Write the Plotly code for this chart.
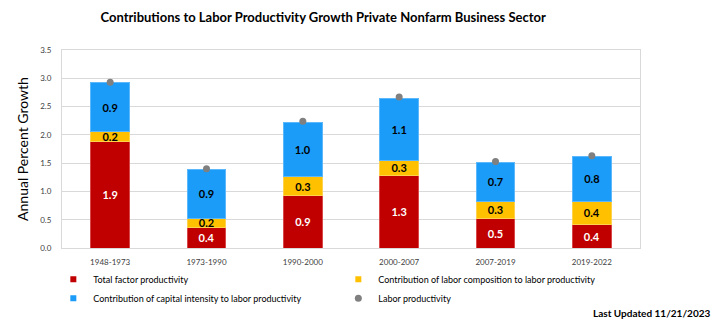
import plotly.graph_objects as go

# Periods and contributions (percentage points, annual growth)
periods = ["1948-1973", "1973-1990", "1990-2000", "2000-2007", "2007-2019", "2019-2022"]
tfp = [1.89, 0.36, 0.93, 1.28, 0.53, 0.42]
labor_comp = [0.17, 0.17, 0.33, 0.27, 0.30, 0.41]
capital_int = [0.86, 0.86, 0.96, 1.10, 0.69, 0.79]
labor_prod = [2.93, 1.40, 2.24, 2.67, 1.53, 1.63]
y_ticks = [0.0, 0.5, 1.0, 1.5, 2.0, 2.5, 3.0, 3.5]

FONT = "Lato"
RED, YELLOW, BLUE, GRAY = "#C00000", "#FFC000", "#1B9CF8", "#808080"

fig = go.Figure()

def stacked(name, vals, color, line_color, text_color):
    fig.add_trace(go.Bar(
        x=periods, y=vals, name=name, showlegend=False,
        marker=dict(color=color, line=dict(color=line_color, width=1)),
        texttemplate="<b>%{y:.1f}</b>", textposition="inside",
        insidetextanchor="middle", textangle=0,
        textfont=dict(family=FONT, size=11, color=text_color),
        hoverinfo="skip",
    ))
    # small square legend key for the series
    fig.add_trace(go.Scatter(
        x=[None], y=[None], name=name, mode="markers",
        marker=dict(color=color, symbol="square", size=6),
    ))

stacked("Total factor productivity", tfp, RED, "#D84848", "white")
stacked("Contribution of labor composition to labor productivity", labor_comp, YELLOW, "#FFD24D", "black")
stacked("Contribution of capital intensity to labor productivity", capital_int, BLUE, "#5CB8FA", "black")

fig.add_trace(go.Scatter(
    x=periods, y=labor_prod, name="Labor productivity", mode="markers",
    marker=dict(color=GRAY, size=7),
))

fig.update_layout(
    width=715, height=326,
    barmode="stack", bargap=0.6,
    paper_bgcolor="white", plot_bgcolor="white",
    margin=dict(l=62, r=75, t=50, b=78, autoexpand=False),
    font=dict(family=FONT, color="#404040"),
    uniformtext=dict(minsize=11, mode="show"),
    title=dict(
        text="<b>Contributions to Labor Productivity Growth Private Nonfarm Business Sector</b>",
        x=0.452, xanchor="center", xref="container",
        y=0.945, yanchor="middle", yref="container",
        font=dict(family=FONT, size=13, color="black"),
    ),
    legend=dict(
        orientation="h", x=-0.015, xanchor="left", y=-0.085, yanchor="top",
        entrywidth=240, font=dict(family=FONT, size=9, color="black"),
        traceorder="normal", itemwidth=30,
    ),
    showlegend=True,
    annotations=[dict(
        text="<b>Last Updated 11/21/2023</b>", xref="paper", yref="paper",
        x=1.125, y=-0.326, xanchor="right", yanchor="middle", showarrow=False,
        font=dict(family=FONT, size=10, color="black"),
    )],
)

fig.update_xaxes(
    showline=True, linecolor="#D9D9D9", mirror=True,
    ticks="outside", ticklen=6, tickcolor="rgba(0,0,0,0)",
    tickfont=dict(family=FONT, size=8, color="#404040"),
)
fig.update_yaxes(
    range=[0, 3.5], tickvals=y_ticks, tickformat=".1f",
    showgrid=True, gridcolor="#D9D9D9", gridwidth=1,
    showline=True, linecolor="#D9D9D9", mirror=True, zeroline=False,
    ticks="outside", ticklen=8, tickcolor="rgba(0,0,0,0)",
    tickfont=dict(family=FONT, size=8, color="#404040"),
    title=dict(text="Annual Percent Growth", standoff=8,
               font=dict(family=FONT, size=14, color="black")),
)

fig.write_html("out.html")
